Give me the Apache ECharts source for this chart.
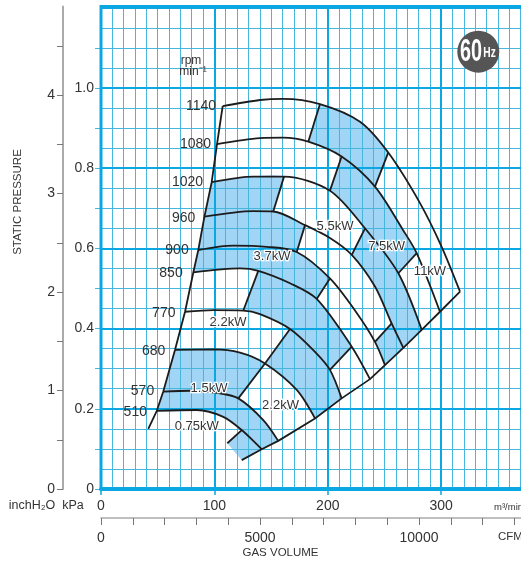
<!DOCTYPE html>
<html><head><meta charset="utf-8">
<style>html,body{margin:0;padding:0;background:#fff;overflow:hidden}#c{width:521px;height:565px}</style>
<script src="https://cdn.jsdelivr.net/npm/echarts@6/dist/echarts.min.js"></script>
</head><body><div id="c"></div>
<script>
// Values: gas volume (m3/min), static pressure (kPa)
const surge = [[41.7,.150],[49.2,.195],[54.9,.243],[65.3,.347],[74.1,.442],[81.4,.540],[85.8,.596],[91.2,.679],[97.6,.765],[102.3,.860],[107.3,.955]];
const rpm1140 = [[107.3,.955],[140.2,.970],[160.5,.973],[193.1,.960],[228.4,.916],[253.3,.839],[281.3,.713],[300.4,.604],[316.6,.492]];
const rpm1080 = [[102.3,.860],[140.2,.875],[160.5,.876],[182.8,.866],[212.2,.829],[241.6,.754],[266.3,.646],[278.4,.588],[298.9,.442]];
const rpm1020 = [[97.6,.765],[134.3,.779],[161.4,.779],[201.9,.744],[232.8,.650],[262.2,.538],[282.8,.397]];
const rpm960 = [[91.2,.679],[134.3,.693],[151.9,.692],[179.9,.658],[201.9,.626],[221.1,.584],[241.6,.505],[256.3,.413],[266.6,.352]];
const rpm900 = [[85.8,.596],[116.7,.607],[146.1,.604],[172.6,.591],[201.9,.525],[225.5,.439],[241.6,.367],[250.4,.309]];
const rpm850 = [[81.4,.540],[122.6,.550],[138.7,.544],[166.7,.513],[190.2,.474],[221.1,.355],[237.2,.274]];
const rpm770 = [[74.1,.442],[99,.446],[125.5,.445],[140.2,.436],[166.7,.399],[188.7,.342],[201.9,.297],[212.2,.226]];
const rpm680 = [[65.3,.347],[99,.348],[122.6,.340],[144.6,.313],[172.6,.247],[188.7,.176]];
const rpm570 = [[54.9,.243],[78.5,.245],[102,.240],[121.1,.226],[143.1,.172],[156.3,.120]];
const rpm510 = [[49.2,.195],[84.4,.197],[107.8,.180],[124.1,.147],[141.7,.099]];
const limit = [[124.1,.072],[141.7,.099],[156.3,.120],[188.7,.176],[212.2,.226],[237.2,.274],[250.4,.309],[266.6,.352],[282.8,.397],[298.9,.442],[316.6,.492]];
const powerTicks = [
  [[111.4,.114],[124.1,.147]],
  [[121.1,.226],[144.6,.313],[166.7,.399]],
  [[125.5,.445],[138.7,.544]],
  [[190.2,.474],[201.9,.525]],
  [[221.1,.355],[201.9,.297]],
  [[172.6,.591],[179.9,.658]],
  [[151.9,.692],[161.4,.779]],
  [[221.1,.584],[232.8,.650]],
  [[201.9,.744],[212.2,.829]],
  [[241.6,.754],[253.3,.839]],
  [[182.8,.866],[193.1,.960]],
  [[256.3,.413],[241.6,.367]],
  [[262.2,.538],[278.4,.588]]
];
const kPaLabels = [0,.2,.4,.6,.8,1.0];
const kPaTicks = [0,.1,.2,.3,.4,.5,.6,.7,.8,.9,1.0,1.1];
const inchLabels = [0,1,2,3,4];
const inchTicks = [0,.5,1,1.5,2,2.5,3,3.5,4,4.5];
const flowLabels = [0,100,200,300];
const cfmLabels = [0,5000,10000];

const rpmNames = ['1140','1080','1020','960','900','850','770','680','570','510'];
const powerNames = ['0.75kW','1.5kW','2.2kW','2.2kW','3.7kW','5.5kW','7.5kW','11kW'];

const curves = [rpm1140,rpm1080,rpm1020,rpm960,rpm900,rpm850,rpm770,rpm680,rpm570,rpm510];
const T = powerTicks;
function s(a,i,j){ // follows the curve between two of its read points, drawn as a spline so the fill meets the line
  const o=[], lo=Math.min(i,j), hi=Math.max(i,j), n=6;
  for(let k=lo;k<hi;k++){
    const p0=a[Math.max(k-1,0)],p1=a[k],p2=a[k+1],p3=a[Math.min(k+2,a.length-1)];
    for(let m=0;m<n;m++){
      const t=m/n;
      o.push([0,1].map(d=>0.5*(2*p1[d]+(p2[d]-p0[d])*t+(2*p0[d]-5*p1[d]+4*p2[d]-p3[d])*t*t+(3*p1[d]-p0[d]-3*p2[d]+p3[d])*t*t*t)));
    }
  }
  o.push(a[hi]);
  return i<=j?o:o.reverse();
}
function e(a,i,j){const o=[];for(let k=i;k>=j;k--)o.push(a[k]);return o;} // straight chords
const bands = [
  [...e(surge,1,1),surge[2],surge[3],...s(rpm680,0,3),T[1][0],...s(rpm570,3,5),...e(limit,2,0),T[0][0],...s(rpm510,3,0)],
  [surge[5],surge[6],surge[7],surge[8],...s(rpm1020,0,2),...s(rpm960,2,3),...s(rpm900,3,4),...s(rpm850,4,0)],
  [...s(rpm850,2,5),...s(rpm770,6,7),...e(limit,4,3),...s(rpm680,5,3),...s(rpm770,4,2)],
  [...s(rpm1140,3,5),...s(rpm1080,5,3)],
  [...s(rpm1080,4,7),...s(rpm1020,5,6),...e(limit,8,6),rpm900[6],...s(rpm960,7,5),...s(rpm1020,4,3)]
];

const FONT = '"Liberation Sans", Arial, sans-serif';
const TXT = '#333333', MAJOR='#0ba7e2', MINOR='#46b6dc', GREY='#aaaaaa';

function txt(text,x,y,size,extra){
  return Object.assign({type:'text',x:x,y:y,z:20,silent:true,
    style:Object.assign({text:text,fontFamily:FONT,fontSize:size,fill:TXT,textAlign:'center',textVerticalAlign:'middle'},extra&&extra.style||{})},extra&&extra.el||{});
}
const halo={style:{stroke:'#fff',lineWidth:2.5,fill:'#333'}};
const rpmPos=[[201,106],[195.5,144],[187.5,181.7],[183.7,218],[177,250],[171,273],[163.8,313],[153.7,350.7],[142.5,391],[135.3,411.7]];
const powPos=[[196.7,426],[209,388.3],[228,322.7],[280.5,405],[272,256.7],[335,226.7],[386.7,246],[430,271.7]];
const graphics=[];
rpmNames.forEach((n,i)=>graphics.push(txt(n,rpmPos[i][0],rpmPos[i][1],14)));
powerNames.forEach((n,i)=>graphics.push(txt(n,powPos[i][0],powPos[i][1],13,halo)));
graphics.push(
  txt('rpm',191,61,12),
  txt('min⁻¹',193,71.5,12),
  txt('STATIC PRESSURE',18,202,11.5,{el:{rotation:Math.PI/2}}),
  txt('inchH₂O',32,505.7,12.5),
  txt('kPa',73,505.7,12.5),
  txt('m³/min',494,507.5,9.5,{style:{textAlign:'left'}}),
  txt('CFM',498,537,11.5,{style:{textAlign:'left'}}),
  txt('GAS VOLUME',280.5,552.7,11.5),
  {type:'circle',z:20,silent:true,shape:{cx:478.3,cy:51.7,r:21},style:{fill:'#555555'}},
  {type:'text',z:21,silent:true,x:471,y:52,scaleX:.62,style:{text:'60',fontFamily:FONT,fontWeight:'bold',fontSize:32,fill:'#fff',textAlign:'center',textVerticalAlign:'middle'}},
  {type:'text',z:21,silent:true,x:489.5,y:53,scaleX:.68,style:{text:'Hz',fontFamily:FONT,fontWeight:'bold',fontSize:15,fill:'#fff',textAlign:'center',textVerticalAlign:'middle'}}
);

const lineSeries=(d)=>({type:'line',data:d,showSymbol:false,silent:true,z:5,clip:false,animation:false,
  lineStyle:{color:'#1c1c1c',width:1.8},itemStyle:{color:'#1c1c1c'}});

const chart=echarts.init(document.getElementById('c'),null,{renderer:'canvas'});
chart.setOption({
  animation:false,
  textStyle:{fontFamily:FONT},
  grid:{left:101,width:453.6,top:6.5,height:482.5,show:true,borderColor:MAJOR,borderWidth:3,backgroundColor:'transparent',containLabel:false,outerBoundsMode:'none',z:4},
  graphic:graphics,
  xAxis:[
    {type:'value',position:'bottom',min:0,max:400,interval:100,z:3,
     axisLine:{show:true,onZero:false,lineStyle:{color:MAJOR,width:4}},
     axisTick:{show:true,length:6,lineStyle:{color:MAJOR,width:1.5}},
     splitLine:{show:true,lineStyle:{color:MAJOR,width:2}},
     axisLabel:{customValues:flowLabels,margin:10,fontSize:14,color:TXT,formatter:v=>String(v)}},
    {type:'value',position:'bottom',offset:29,min:0,max:14264,interval:1000,z:3,
     axisLine:{show:true,onZero:false,lineStyle:{color:GREY,width:1.5}},
     axisTick:{show:true,length:7,lineStyle:{color:'#777',width:1}},
     splitLine:{show:false},
     axisLabel:{customValues:cfmLabels,margin:13,fontSize:14,color:TXT,formatter:v=>String(v)}},
    {type:'value',position:'bottom',min:0,max:400,interval:10,z:2,
     axisLine:{show:false},axisTick:{show:false},axisLabel:{show:false},
     splitLine:{show:true,lineStyle:{color:MINOR,width:1}}}
  ],
  yAxis:[
    {type:'value',position:'left',min:0,max:1.2032,interval:.2,z:3,
     axisLine:{show:false},
     axisTick:{show:false},
     splitLine:{show:true,lineStyle:{color:MAJOR,width:2}},
     axisLabel:{customValues:kPaLabels,margin:7,fontSize:14,color:TXT,formatter:v=>v===0?'0':v.toFixed(1)}},
    {type:'value',position:'left',offset:38,min:0,max:4.9,z:3,
     axisLine:{show:true,onZero:false,lineStyle:{color:GREY,width:2}},
     axisTick:{show:true,customValues:inchTicks,length:6,lineStyle:{color:'#777',width:1}},
     splitLine:{show:false},
     axisLabel:{customValues:inchLabels,margin:8,fontSize:14,color:TXT,formatter:v=>String(v)}},
    {type:'value',position:'left',min:0,max:1.2032,z:3,
     axisLine:{show:false},
     axisTick:{show:true,customValues:kPaTicks,length:6,lineStyle:{color:MINOR,width:1}},
     splitLine:{show:false},
     axisLabel:{show:false}},
    {type:'value',position:'left',min:0,max:1.2032,interval:.05,z:2,
     axisLine:{show:false},axisTick:{show:false},axisLabel:{show:false},
     splitLine:{show:true,lineStyle:{color:MINOR,width:1}}}
  ],
  series:[
    {type:'custom',silent:true,z:1,clip:false,data:bands.map((b,i)=>[i]),
     renderItem:(p,api)=>{
       const pts=bands[api.value(0)].map(q=>api.coord(q));
       return {type:'polygon',shape:{points:pts},style:{fill:'#a0d5f5',stroke:null}};
     }},
    lineSeries(surge),lineSeries(limit),
    ...curves.map(lineSeries).map(o=>Object.assign(o,{smooth:.3})),
    ...T.map(lineSeries)
  ]
});
</script></body></html>
